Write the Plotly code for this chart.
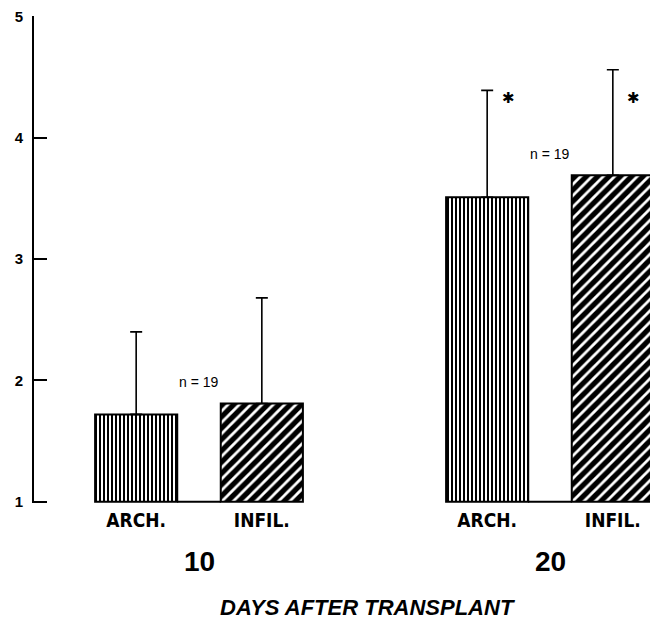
import plotly.graph_objects as go

# ---- data ----
days = ["10", "20"]
groups_labels = ["ARCH.", "INFIL."]
arch_mean = [1.72, 3.51]
arch_sd = [0.68, 0.88]
infil_mean = [1.81, 3.69]
infil_sd = [0.87, 0.87]
n_labels = ["n = 19", "n = 19"]
n_label_y = [1.99, 3.87]
sig_marks = ["", "✱"]
sig_y = 4.33
y_ticks = [1, 2, 3, 4, 5]
baseline = 1

# ---- layout geometry (positions) ----
group_pos = [0, 1]
offset = 0.179
bar_w = 0.234
arch_x = [g - offset for g in group_pos]
infil_x = [g + offset for g in group_pos]

bold_narrow = "Liberation Sans Narrow, DejaVu Sans Condensed, Arial Narrow, sans-serif"
sans = "Liberation Sans, Arial, Helvetica, sans-serif"

fig = go.Figure()

fig.add_trace(go.Bar(
    x=arch_x, y=[v - baseline for v in arch_mean], base=baseline, width=bar_w,
    name="ARCH.",
    marker=dict(color="white", line=dict(color="black", width=2),
                pattern=dict(shape="|", size=4, solidity=0.5,
                             fgcolor="black", bgcolor="white", fgopacity=1)),
    error_y=dict(type="data", symmetric=False, array=arch_sd,
                 arrayminus=[0] * len(arch_sd), color="black",
                 thickness=1.6, width=6),
))
fig.add_trace(go.Bar(
    x=infil_x, y=[v - baseline for v in infil_mean], base=baseline, width=bar_w,
    name="INFIL.",
    marker=dict(color="white", line=dict(color="black", width=2),
                pattern=dict(shape="/", size=8, solidity=0.65,
                             fgcolor="black", bgcolor="white", fgopacity=1)),
    error_y=dict(type="data", symmetric=False, array=infil_sd,
                 arrayminus=[0] * len(infil_sd), color="black",
                 thickness=1.6, width=6),
))

# baseline segments joining the two bars of each group
bx, by = [], []
for a, b in zip(arch_x, infil_x):
    bx += [a + bar_w / 2, b - bar_w / 2, None]
    by += [baseline, baseline, None]
fig.add_trace(go.Scatter(x=bx, y=by, mode="lines",
                         line=dict(color="black", width=2),
                         hoverinfo="skip", showlegend=False))

annotations = []
for g, ny, nt in zip(group_pos, n_label_y, n_labels):
    annotations.append(dict(x=g, y=ny, xref="x", yref="y", text=nt,
                            showarrow=False, font=dict(family=sans, size=14, color="black")))
for g, d in zip(group_pos, days):
    annotations.append(dict(x=g, y=-0.12, xref="x", yref="paper", text="<b>" + d + "</b>",
                            showarrow=False, yanchor="middle",
                            font=dict(family=sans, size=28, color="black")))
for xs in (arch_x, infil_x):
    for x, m in zip(xs, sig_marks):
        if m:
            annotations.append(dict(x=x + 0.06, y=sig_y, xref="x", yref="y", text=m,
                                    showarrow=False,
                                    font=dict(family="DejaVu Sans", size=15, color="black")))
annotations.append(dict(x=0.535, y=-0.215, xref="paper", yref="paper",
                        text="<b><i>DAYS AFTER TRANSPLANT</i></b>", showarrow=False,
                        yanchor="middle",
                        font=dict(family=sans, size=22, color="black")))

# the page body adds an 8px offset, so the figure is 8px smaller and margins shifted
fig.update_layout(
    width=650, height=614,
    margin=dict(l=26, r=0, t=8, b=119, autoexpand=False),
    paper_bgcolor="white", plot_bgcolor="white",
    showlegend=False, barmode="overlay",
    annotations=annotations,
    xaxis=dict(range=[-0.4701, 1.3077], showgrid=False, zeroline=False, showline=False,
               automargin=False,
               tickvals=arch_x + infil_x,
               ticktext=["<b>" + t + "</b>" for t in [groups_labels[0]] * 2 + [groups_labels[1]] * 2],
               ticks="", ticklabelstandoff=4,
               tickfont=dict(family=bold_narrow, size=19, color="black")),
    yaxis=dict(range=[0.99, 5.003], showgrid=False, zeroline=False, showline=True,
               automargin=False, ticklabeloverflow="allow",
               linecolor="black", linewidth=2, tickvals=y_ticks,
               ticktext=["<b>%d</b>" % t for t in y_ticks],
               ticks="inside", ticklen=13, tickwidth=2, tickcolor="black",
               ticklabelstandoff=6,
               tickfont=dict(family=sans, size=15, color="black")),
)

fig.write_html("out.html")
